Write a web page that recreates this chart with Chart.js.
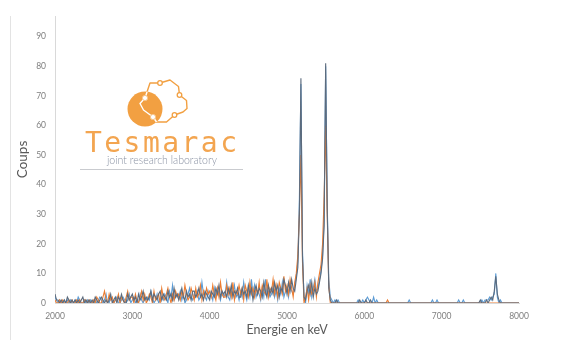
<!DOCTYPE html>
<html>
<head>
<meta charset="utf-8">
<script src="https://cdn.jsdelivr.net/npm/chart.js@4/dist/chart.umd.min.js"></script>
<style>
  html, body { margin: 0; padding: 0; background: #fff; }
  #wrap { position: relative; width: 569px; height: 340px; }
  #frame { position: absolute; left: 10px; top: 16px; width: 1px; height: 324px; background: #e3e3e3; }
  #logo { position: absolute; left: 0; top: 0; pointer-events: none; }
</style>
</head>
<body>
<div id="wrap">
  <canvas id="c" width="569" height="340"></canvas>
  <div id="frame"></div>
  <svg id="logo" width="569" height="340" xmlns="http://www.w3.org/2000/svg">
    <defs>
      <clipPath id="disk"><circle cx="145" cy="109" r="17.5"/></clipPath>
    </defs>
    <circle cx="145" cy="109" r="17.5" fill="#F2A042"/>
    <path d="M145,98 L150,83 L160,83 L170,80 L178.5,86.5 L179.5,95 L186.5,100.5 L187,108.5 L183,112 L174.5,115 L166.5,122 L156.5,122 L153,117 L143.5,110 L140,103.5 Z"
          fill="none" stroke="#F2A042" stroke-width="1.4" stroke-linejoin="round"/>
    <path d="M145,98 L150,83 L160,83 L170,80 L178.5,86.5 L179.5,95 L186.5,100.5 L187,108.5 L183,112 L174.5,115 L166.5,122 L156.5,122 L153,117 L143.5,110 L140,103.5 Z"
          fill="none" stroke="#ffffff" stroke-width="1.4" stroke-linejoin="round" clip-path="url(#disk)"/>
    <circle cx="160" cy="83" r="2.3" fill="#fff" stroke="#F2A042" stroke-width="1.3"/>
    <circle cx="179.5" cy="95" r="2.3" fill="#fff" stroke="#F2A042" stroke-width="1.3"/>
    <circle cx="174.5" cy="115" r="2.3" fill="#fff" stroke="#F2A042" stroke-width="1.3"/>
    <circle cx="145" cy="98" r="2.6" fill="#fff" stroke="#F7C58A" stroke-width="1"/>
    <circle cx="153" cy="117" r="2.6" fill="#fff" stroke="#F7C58A" stroke-width="1"/>
    <text x="85" y="152" font-family="DejaVu Sans Mono, monospace" font-size="28" fill="#F3A550"
          textLength="152" lengthAdjust="spacing">Tesmarac</text>
    <text x="107" y="163.5" font-family="Lato, Open Sans, sans-serif" font-weight="300" font-size="11" fill="#8A92A3"
          textLength="110" lengthAdjust="spacingAndGlyphs">joint research laboratory</text>
    <line x1="80" y1="169.5" x2="243" y2="169.5" stroke="#C9CBCF" stroke-width="1"/>
  </svg>
</div>
<script>
// Energy grid of the spectrum: 20 keV channels from 2000 to 8000 keV
const E_START = 2000;
const E_STEP = 20;
const E_COUNT = 301;
const energies = Array.from({ length: E_COUNT }, (_, i) => E_START + E_STEP * i);

const xTicks = [2000, 3000, 4000, 5000, 6000, 7000, 8000];
const yTicks = [0, 10, 20, 30, 40, 50, 60, 70, 80, 90];

// Counts per channel, one row per 200 keV
const countsBlue = [
  2,1,0,1,0,0,1,0,1,0,
  1,0,0,1,0,2,1,0,0,1,
  0,1,0,1,0,0,1,0,1,2,
  1,0,1,3,0,0,2,1,0,1,
  2,0,0,1,2,1,0,1,3,0,
  1,2,0,1,0,3,1,0,2,1,
  2,1,4,2,0,1,3,0,1,2,
  1,3,2,0,4,2,6,1,2,3,
  2,4,1,3,0,1,3,5,2,1,
  3,2,4,1,2,7,3,2,1,4,
  2,3,1,5,2,5,3,1,4,2,
  3,7,2,1,4,3,6,2,3,1,
  4,2,7,3,1,5,2,8,3,6,
  2,4,3,1,5,2,8,3,4,2,
  3,6,2,4,1,5,3,7,2,4,
  5,2,6,4,3,6,9,14,35,74,
  18,1,0,6,3,8,2,5,8,4,
  5,8,11,16,28,80,34,8,2,1,
  0,1,0,1,0,0,0,0,0,0,
  0,0,0,0,0,0,1,0,0,1,
  0,1,2,1,0,0,2,0,1,0,
  0,0,0,0,0,0,0,0,0,0,
  0,0,0,0,0,0,0,0,0,1,
  0,0,0,0,0,0,0,0,0,0,
  0,0,0,0,1,0,0,1,0,0,
  0,0,0,0,0,0,0,0,0,0,
  0,1,0,0,1,0,0,0,0,0,
  0,0,0,0,0,0,1,0,1,1,
  1,2,1,2,3,10,2,0,1,0,
  0,0,0,0,0,0,0,0,0,0,
  0
];

const countsOrange = [
  1,0,0,1,0,1,0,0,0,1,
  0,1,0,0,1,0,1,0,0,1,
  1,0,1,0,0,1,0,2,1,0,
  0,2,4,1,0,3,1,2,0,1,
  1,3,0,2,1,0,2,4,1,2,
  2,0,3,1,0,2,4,1,3,0,
  1,3,2,0,4,1,2,3,0,5,
  2,1,3,5,2,0,3,1,4,2,
  3,1,4,2,6,3,1,2,5,3,
  1,5,2,3,6,1,4,2,5,3,
  4,2,6,3,1,5,2,7,3,2,
  2,6,3,5,2,7,1,4,3,6,
  3,5,1,6,4,2,7,3,5,2,
  5,3,7,2,6,4,3,8,2,5,
  4,8,3,6,2,7,5,3,9,4,
  6,3,8,5,2,7,10,16,30,50,
  14,0,2,5,1,6,3,4,7,2,
  7,10,13,20,36,60,30,6,0,0,
  0,0,0,0,0,0,0,0,0,0,
  0,0,0,0,0,0,0,0,0,0,
  0,0,0,0,0,0,0,0,0,0,
  0,0,0,0,0,1,0,0,0,0,
  0,0,0,0,0,0,0,0,0,0,
  0,0,0,0,0,0,0,0,0,0,
  0,0,0,0,0,0,0,0,0,0,
  0,0,0,0,0,0,0,0,0,0,
  0,0,0,0,0,0,0,0,0,0,
  0,0,0,0,0,0,0,0,0,0,
  0,0,0,0,0,0,0,0,0,0,
  0,0,0,0,0,0,0,0,0,0,
  0
];

const countsGrey = [
  3,1,1,0,1,0,1,0,2,1,
  0,1,0,1,0,1,0,1,2,0,
  1,0,1,0,1,0,2,1,0,1,
  2,1,0,1,0,1,3,0,1,2,
  0,2,1,3,1,0,0,3,1,2,
  3,1,2,0,3,1,2,4,1,2,
  1,2,4,1,3,2,1,3,4,1,
  3,2,1,4,2,3,1,5,2,3,
  1,3,5,2,1,4,2,3,1,4,
  4,2,3,5,2,3,1,4,3,2,
  1,4,3,2,5,3,6,2,4,3,
  4,2,5,3,6,2,4,3,5,2,
  2,5,3,4,2,6,3,5,1,4,
  6,3,5,4,2,7,4,2,6,3,
  5,3,7,4,6,2,5,4,8,6,
  3,7,4,8,5,4,8,12,30,76,
  16,2,1,4,6,3,7,2,5,3,
  4,7,10,15,26,81,32,5,1,0,
  0,0,1,0,0,0,0,0,0,0,
  0,0,0,0,0,0,0,1,0,0,
  0,1,0,0,1,0,0,0,0,0,
  0,0,0,0,0,0,0,0,0,0,
  0,0,0,0,0,0,0,0,0,0,
  0,0,0,0,0,0,0,0,0,0,
  0,0,0,0,0,0,0,0,0,0,
  0,0,0,0,0,0,0,0,0,0,
  0,0,0,0,0,0,0,0,0,0,
  0,0,0,0,0,1,0,0,0,1,
  0,1,2,1,4,9,3,1,0,0,
  0,0,0,0,0,0,0,0,0,0,
  0
];

const toPoints = arr => arr.map((v, i) => ({ x: energies[i], y: v }));

const labelFont = { family: 'Liberation Sans Narrow, Lato, sans-serif', size: 8.5 };
const titleFont = { family: 'Lato, Open Sans, sans-serif', size: 12.5 };

new Chart(document.getElementById('c'), {
  type: 'line',
  data: {
    datasets: [
      { label: 'Série 3', data: toPoints(countsGrey), borderColor: '#5C6B7D', borderWidth: 1.1 },
      { label: 'Série 2', data: toPoints(countsOrange), borderColor: '#ED7D31', borderWidth: 1.1 },
      { label: 'Série 1', data: toPoints(countsBlue), borderColor: '#5B9BD5', borderWidth: 1.1 }
    ]
  },
  options: {
    responsive: false,
    animation: false,
    elements: { point: { radius: 0 }, line: { tension: 0, fill: false } },
    layout: { padding: { top: 16, right: 50, left: 0, bottom: 0 } },
    plugins: { legend: { display: false }, tooltip: { enabled: false } },
    scales: {
      x: {
        type: 'linear',
        min: 2000,
        max: 8000,
        afterFit: s => { s.height = 37; },
        afterBuildTicks: s => { s.ticks = xTicks.map(v => ({ value: v })); },
        grid: { display: false, drawTicks: false },
        border: { display: true, color: '#D9D9D9' },
        ticks: { font: labelFont, color: '#7F7F7F', padding: 8, maxRotation: 0,
                 callback: v => String(v) },
        title: { display: true, text: 'Energie en keV', font: titleFont, color: '#595959',
                 padding: { top: 0, bottom: 3 } }
      },
      y: {
        min: 0,
        max: 97,
        afterFit: s => { s.width = 55; },
        afterBuildTicks: s => { s.ticks = yTicks.map(v => ({ value: v })); },
        grid: { display: false, drawTicks: false },
        border: { display: true, color: '#D9D9D9' },
        ticks: { font: labelFont, color: '#7F7F7F', padding: 9 },
        title: { display: true, text: 'Coups', font: { family: 'Lato, Open Sans, sans-serif', size: 13.5 },
                 color: '#595959', padding: { top: 15, bottom: 0 } }
      }
    }
  }
});
</script>
</body>
</html>
